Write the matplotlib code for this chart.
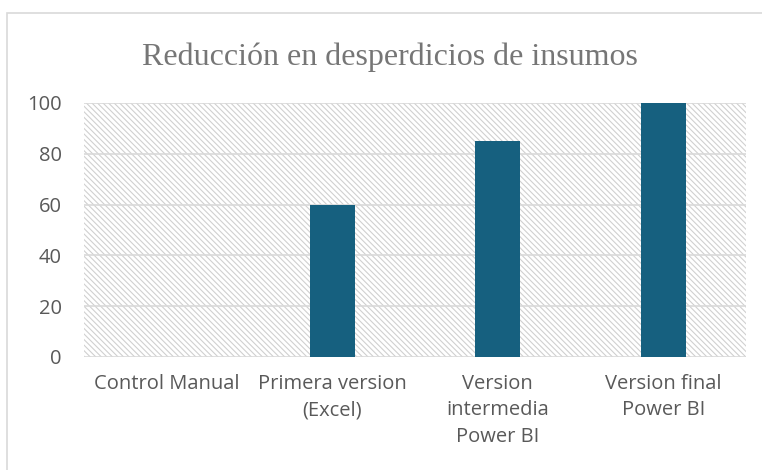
import numpy as np
import matplotlib.pyplot as plt
from matplotlib.patches import Rectangle

categorias = ["Control Manual", "Primera version\n(Excel)", "Version\nintermedia\nPower BI", "Version final\nPower BI"]
valores = [0, 60, 85, 100]
yticks = [0, 20, 40, 60, 80, 100]

fig = plt.figure(figsize=(7.62, 4.70), dpi=100)

# marco del grafico (sale por la derecha y por abajo)
fig.patches.append(Rectangle((7/762, -0.1), 1.2, 1.1 - 13/470, transform=fig.transFigure,
                             fill=False, edgecolor="#d9d9d9", linewidth=1.2))

ax = fig.add_axes([84/762, 1 - 357/470, 662/762, 254/470])

# fondo rayado
plt.rcParams['hatch.linewidth'] = 0.8
ax.add_patch(Rectangle((0, 0), 1, 1, transform=ax.transAxes, facecolor="white",
                       edgecolor="#d0d0d0", hatch="\\\\\\\\\\\\", linewidth=0, zorder=0))

x = np.arange(len(categorias))
for yv in yticks:
    ax.axhline(yv, color="#d9d9d9", linewidth=1.2, zorder=1)
ax.bar(x, valores, width=0.27, color="#16607f", zorder=2)

ax.set_xlim(-0.5, len(categorias) - 0.5)
ax.set_ylim(0, 100)
ax.set_yticks(yticks)
ax.set_xticks(x)
ax.set_xticklabels(categorias, fontsize=14.5, color="#595959", family="Open Sans", linespacing=1.45)
ax.set_yticklabels([str(v) for v in yticks], fontsize=14.5, color="#595959", family="Open Sans")
ax.tick_params(axis="y", length=0, pad=16)
ax.tick_params(axis="x", length=0, pad=12)
for s in ax.spines.values():
    s.set_visible(False)

fig.text(390/762, 1 - 57/470, "Reducción en desperdicios de insumos",
         ha="center", va="center", fontsize=23, color="#767676", family="Liberation Serif")

fig.savefig("out.png", dpi=100)
